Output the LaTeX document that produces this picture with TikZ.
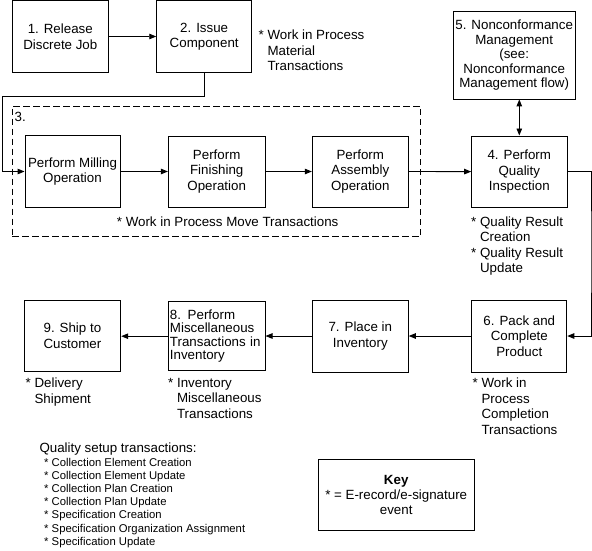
\documentclass[tikz,border=0pt]{standalone}
\usepackage{fontspec}
\setmainfont{Liberation Sans}
\usetikzlibrary{arrows.meta}
\newcommand{\fA}{\fontsize{13.33pt}{15.5pt}\selectfont}
\newcommand{\fB}{\fontsize{11.3pt}{13.17pt}\selectfont}
\newcommand{\ind}{\hphantom{*\ }}
\begin{document}
\begin{tikzpicture}[x=1pt,y=-1pt,
  box/.style={draw, line width=0.9pt, inner sep=0pt, align=center, font=\fA},
  note/.style={inner sep=0pt, align=left, font=\fA, anchor=north west},
  lbl/.style={inner sep=0pt, font=\fA, anchor=base west},
  arr/.style={-{Triangle[length=7pt,width=5.5pt]}, line width=0.9pt},
  darr/.style={{Triangle[length=7pt,width=5.5pt]}-{Triangle[length=7pt,width=5.5pt]}, line width=0.9pt},
  grpbox/.style={draw, dash pattern=on 6.5pt off 3.5pt, line width=0.9pt, inner sep=0pt}
]
\useasboundingbox (0,0) rectangle (592,550);
\fill[white] (0,0) rectangle (592,550);

% group 3
\node[grpbox, minimum width=408.4pt, minimum height=130.7pt] (grp) at (216.5,171.35) {};
\node[lbl] (g3) at (14.5,121.6) {3.};

% top row
\node[box, minimum width=96pt, minimum height=71.5pt] (b1) at (60.3,36.5) {1. Release\\Discrete Job};
\node[box, minimum width=95pt, minimum height=71.5pt] (b2) at (204.2,36.5) {2. Issue\\Component};
\node[box, minimum width=121.7pt, minimum height=87.3pt, font=\fontsize{13.33pt}{14.5pt}\selectfont] (b5) at (514.2,55.3)
  {5. Nonconformance\\Management\\(see:\\Nonconformance\\Management flow)};

% middle row
\node[box, minimum width=95pt, minimum height=71.5pt] (mill) at (72.5,171.5) {Perform Milling\\Operation};
\node[box, minimum width=96.7pt, minimum height=71pt] (fin) at (216.7,171.5) {Perform\\Finishing\\Operation};
\node[box, minimum width=96pt, minimum height=71pt] (asm) at (360.3,171.5) {Perform\\Assembly\\Operation};
\node[box, minimum width=95.3pt, minimum height=71.3pt, font=\fontsize{13.33pt}{15.3pt}\selectfont] (b4) at (519.3,171.6) {4. Perform\\Quality\\Inspection};

% bottom row
\node[box, minimum width=95pt, minimum height=72pt] (b6) at (519.3,336) {6. Pack and\\Complete\\Product};
\node[box, minimum width=96pt, minimum height=72pt] (b7) at (360.3,336) {7. Place in\\Inventory};
\node[box, minimum width=96.7pt, minimum height=69pt, align=left, text width=93.5pt, inner xsep=1.6pt,
  font=\fontsize{13.33pt}{13.3pt}\selectfont] (b8) at (216.7,336.2) {8. Perform\\Miscellaneous\\Transactions in\\Inventory};
\node[box, minimum width=96.7pt, minimum height=71.7pt] (b9) at (72.4,335.9) {9. Ship to\\Customer};

% key
\node[box, minimum width=155.7pt, minimum height=71.4pt, font=\fontsize{13.33pt}{15pt}\selectfont] (key) at (396.2,495)
  {\textbf{Key}\\* = E-record/e-signature\\event};

% annotations
\node[note] (n2) at (258.5,29.7) {* Work in Process\\\ind Material\\\ind Transactions};
\node[lbl] (nmove) at (116.7,226.3) {* Work in Process Move Transactions};
\node[note] (n4) at (471,216.2) {* Quality Result\\\ind Creation\\* Quality Result\\\ind Update};
\node[note] (n9) at (25.5,377.9) {* Delivery\\\ind Shipment};
\node[note] (n8) at (168,377.9) {* Inventory\\\ind Miscellaneous\\\ind Transactions};
\node[note] (n6) at (472.5,377.9) {* Work in\\\ind Process\\\ind Completion\\\ind Transactions};

\node[lbl] (qtitle) at (39.3,452.6) {Quality setup transactions:};
\node[note, font=\fB] (qlist) at (44,457.8) {* Collection Element Creation\\* Collection Element Update\\* Collection Plan Creation\\* Collection Plan Update\\* Specification Creation\\* Specification Organization Assignment\\* Specification Update};

% connectors
\coordinate (c1) at (2,96.7);
\coordinate (c2) at (591,250);
\draw[arr] (b1.east) -- (b2.west);
\draw[arr] (b2.south) |- (c1) |- (mill.west);
\draw[arr] (mill.east) -- (fin.west);
\draw[arr] (fin.east) -- (asm.west);
\draw[arr] (asm.east) -- (b4.west);
\draw[darr] (b4.north |- b5.south) -- (b4.north);
\draw[arr] (b4.east) -| (c2) |- (b6.east);
\draw[arr] (b6.west) -- (b7.east);
\draw[arr] (b7.west) -- (b7.west -| b8.east);
\draw[arr] (b8.west) -- (b8.west -| b9.east);
\end{tikzpicture}
\end{document}
